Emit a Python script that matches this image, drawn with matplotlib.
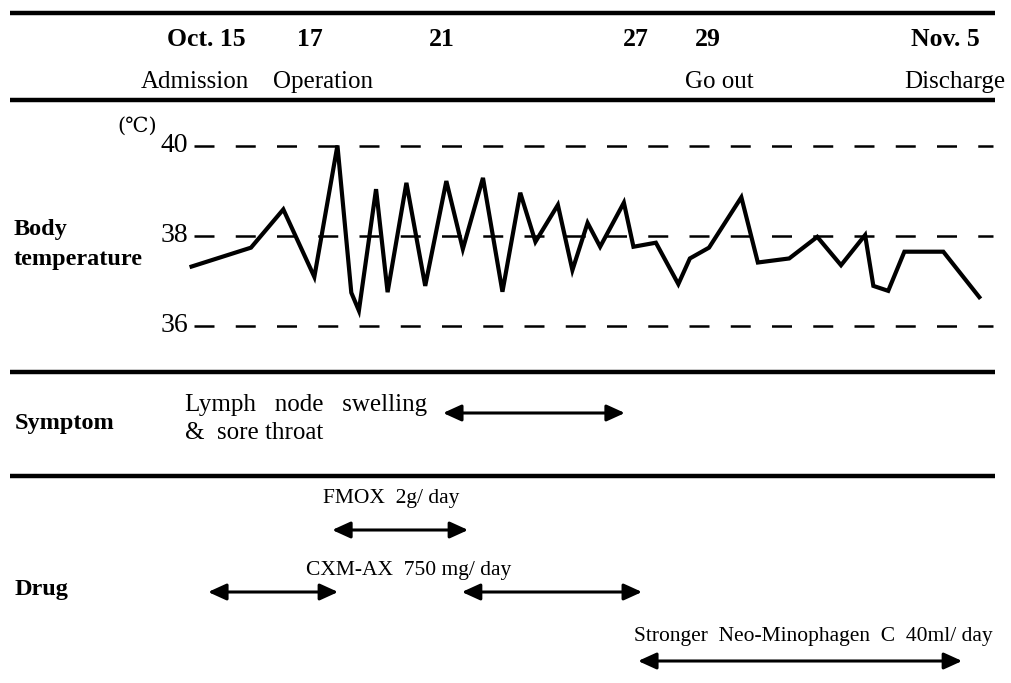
import matplotlib
matplotlib.use("Agg")
import matplotlib.pyplot as plt
import matplotlib.transforms as mtransforms

# ---------------- data ----------------
# day numbers are days of October (Nov. 5 = 36)
temp_days = [13.26, 15.06, 16.04, 16.98, 17.68, 18.10, 18.33, 18.85, 19.20, 19.77,
             20.34, 20.98, 21.48, 22.09, 22.68, 23.22, 23.68, 24.36, 24.80, 25.26,
             25.64, 26.36, 26.65, 27.33, 28.01, 28.36, 28.94, 29.92, 30.42, 31.37,
             32.22, 32.94, 33.67, 33.92, 34.37, 34.86, 36.04, 37.13]
temp_values = [37.31, 37.73, 38.58, 37.08, 40.0, 36.73, 36.33, 39.03, 36.74, 39.17,
               36.88, 39.21, 37.70, 39.28, 36.75, 38.95, 37.86, 38.68, 37.23, 38.28,
               37.75, 38.73, 37.75, 37.84, 36.92, 37.49, 37.73, 38.85, 37.40, 37.49,
               37.97, 37.34, 38.01, 36.88, 36.77, 37.64, 37.64, 36.63]

date_labels = ["Oct. 15", "17", "21", "27", "29", "Nov. 5"]
date_pos = [13.70, 16.85, 20.85, 26.73, 28.91, 36.09]

event_labels = ["Admission", "Operation", "Go out", "Discharge"]
event_pos = [13.36, 17.24, 29.24, 36.39]

temp_ticks = [40, 38, 36]

symptom_text = ["Lymph   node   swelling", "&  sore throat"]
symptom_span = (20.88, 26.39)

drug_names = ["FMOX  2g/ day", "CXM-AX  750 mg/ day", "Stronger  Neo-Minophagen  C  40ml/ day"]
drug_label_pos = [19.30, 19.85, 32.10]
fmox_span = [(17.52, 21.64)]
cxm_spans = [(13.76, 17.70), (21.45, 26.91)]
neo_span = [(26.79, 36.61)]

# ---------------- layout ----------------
W, H = 1011, 683
PX_PER_DAY = 33.0
DAY_AT_315 = 17.0
x_left = DAY_AT_315 - 315 / PX_PER_DAY
x_right = DAY_AT_315 + (W - 315) / PX_PER_DAY
Y38, PX_PER_DEG = 235.5, 45.0
y_top = 38 + Y38 / PX_PER_DEG
y_bot = 38 - (H - Y38) / PX_PER_DEG

def xd(px):
    return DAY_AT_315 + (px - 315) / PX_PER_DAY

def yf(px):
    return 1 - px / H

SERIF = ["Liberation Serif", "DejaVu Serif"]
SEC_FS = 17.5

fig = plt.figure(figsize=(W / 100, H / 100), dpi=100)
ax = fig.add_axes([0, 0, 1, 1])
ax.set_xlim(x_left, x_right)
ax.set_ylim(y_bot, y_top)
ax.axis("off")
bt = mtransforms.blended_transform_factory(ax.transData, ax.transAxes)

# horizontal rules
for ypx in [13, 100, 372, 476]:
    ax.plot([xd(10), xd(995)], [yf(ypx), yf(ypx)], color="black", lw=3.2,
            transform=bt, solid_capstyle="butt")

# date labels
for lab, p in zip(date_labels, date_pos):
    ax.text(p, yf(40), lab, transform=bt, ha="center", va="center",
            fontsize=18.5, fontweight="bold", family=SERIF)
for lab, p in zip(event_labels, event_pos):
    ax.text(p, yf(82), lab, transform=bt, ha="center", va="center",
            fontsize=18, family=SERIF)

# temperature section
for t in temp_ticks:
    ax.plot([xd(194), xd(993)], [t, t], color="black", lw=1.8,
            dashes=(8, 8.5), dash_capstyle="butt")
    ax.text(xd(188), t, str(t), ha="right", va="center", fontsize=20, family=SERIF)
ax.text(xd(137), yf(126), "(℃)", transform=bt, ha="center", va="center",
        fontsize=15, family=["DejaVu Serif"])
ax.plot(temp_days, temp_values, color="black", lw=3.0, solid_joinstyle="miter")
ax.text(xd(14), yf(230), "Body", transform=bt, ha="left", va="center",
        fontsize=SEC_FS, fontweight="bold", family=SERIF)
ax.text(xd(14), yf(259), "temperature", transform=bt, ha="left", va="center",
        fontsize=SEC_FS, fontweight="bold", family=SERIF)

# arrows
def darrow(x0, x1, ypx):
    ax.annotate("", xy=(x1, yf(ypx)), xytext=(x0, yf(ypx)), xycoords=bt, textcoords=bt,
                arrowprops=dict(arrowstyle="<|-|>,head_length=1.1,head_width=0.5",
                                mutation_scale=10, lw=2.2, color="black",
                                shrinkA=0, shrinkB=0))

# symptom section
ax.text(xd(15), yf(424), "Symptom", transform=bt, ha="left", va="center",
        fontsize=SEC_FS, fontweight="bold", family=SERIF)
ax.text(xd(185), yf(405), symptom_text[0], transform=bt, ha="left", va="center",
        fontsize=18, family=SERIF)
ax.text(xd(185), yf(433), symptom_text[1], transform=bt, ha="left", va="center",
        fontsize=18, family=SERIF)
darrow(symptom_span[0], symptom_span[1], 413)

# drug section
ax.text(xd(15), yf(590), "Drug", transform=bt, ha="left", va="center",
        fontsize=SEC_FS, fontweight="bold", family=SERIF)
ax.text(drug_label_pos[0], yf(499), drug_names[0], transform=bt, ha="center",
        va="center", fontsize=15.5, family=SERIF)
ax.text(drug_label_pos[1], yf(571), drug_names[1], transform=bt, ha="center",
        va="center", fontsize=15.5, family=SERIF)
ax.text(drug_label_pos[2], yf(636), drug_names[2], transform=bt, ha="center",
        va="center", fontsize=15.5, family=SERIF)
for a, b in fmox_span:
    darrow(a, b, 530)
for a, b in cxm_spans:
    darrow(a, b, 592)
for a, b in neo_span:
    darrow(a, b, 661)

fig.savefig("out.png", dpi=100, facecolor="white")
